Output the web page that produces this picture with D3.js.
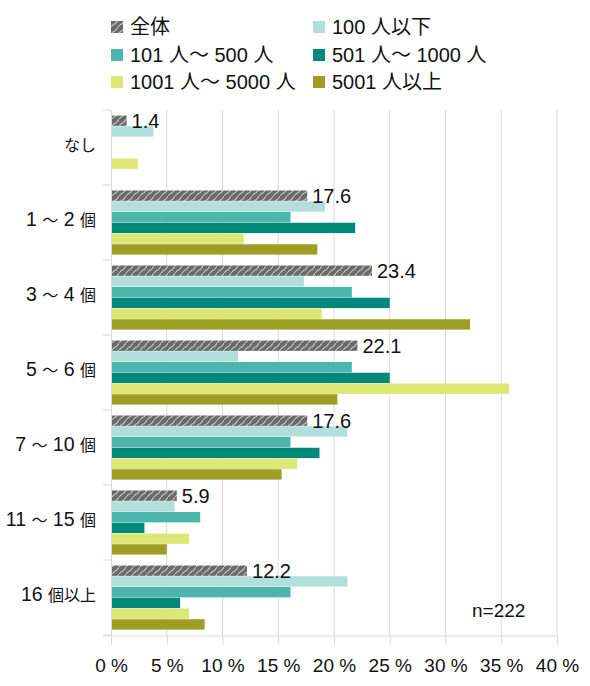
<!DOCTYPE html>
<html>
<head>
<meta charset="utf-8">
<script src="https://cdn.jsdelivr.net/npm/d3@7"></script>
<style>
  body { margin: 0; background: #fff; }
  text { font-family: "Liberation Sans", "Noto Sans CJK JP", sans-serif; fill: #111; }
</style>
</head>
<body>
<div class="chart"></div>
<script>
let FRAME_WIDTH = 590;
let FRAME_HEIGHT = 686;

// categories (top to bottom)
let categories = ["なし", "1 ～ 2 個", "3 ～ 4 個", "5 ～ 6 個", "7 ～ 10 個", "11 ～ 15 個", "16 個以上"];
let seriesNames = ["全体", "100 人以下", "101 人～ 500 人", "501 人～ 1000 人", "1001 人～ 5000 人", "5001 人以上"];
let seriesColors = ["url(#hatch)", "#b2dfdb", "#4db6ac", "#00897b", "#dce775", "#9e9d24"];

// values in %, one array per series
let total      = [1.4, 17.6, 23.4, 22.1, 17.6, 5.9, 12.2];
let upTo100    = [3.8, 19.2, 17.3, 11.4, 21.2, 5.7, 21.2];
let s101to500  = [0.0, 16.1, 21.6, 21.6, 16.1, 8.0, 16.1];
let s501to1000 = [0.0, 21.9, 25.0, 25.0, 18.7, 3.0, 6.2];
let s1001to5000 = [2.4, 11.9, 18.9, 35.7, 16.7, 7.0, 7.0];
let over5001   = [0.0, 18.5, 32.2, 20.3, 15.3, 5.0, 8.4];
let seriesValues = [total, upTo100, s101to500, s501to1000, s1001to5000, over5001];

let xTicks = [0, 5, 10, 15, 20, 25, 30, 35, 40];

let PLOT = {left: 111, right: 557, top: 110, bottom: 635};

let svg = d3.select(".chart")
            .append("svg")
            .attr("width", FRAME_WIDTH)
            .attr("height", FRAME_HEIGHT);

// hatch pattern for 全体
let defs = svg.append("defs");
let pat = defs.append("pattern")
              .attr("id", "hatch")
              .attr("patternUnits", "userSpaceOnUse")
              .attr("width", 7)
              .attr("height", 7);
pat.append("rect").attr("width", 7).attr("height", 7).attr("fill", "#6a6a6a");
pat.append("path")
   .attr("d", "M-1,8 L3,4 L4,4 L8,-1")
   .attr("stroke", "#c8c8c8")
   .attr("stroke-width", 1.1)
   .attr("fill", "none");

const X_SCALE = d3.scaleLinear()
                  .domain([0, 40])
                  .range([PLOT.left, PLOT.right]);

const Y_SCALE = d3.scaleBand()
                  .domain(categories)
                  .range([PLOT.top, PLOT.bottom]);

const Y_INNER = d3.scaleBand()
                  .domain(d3.range(seriesNames.length))
                  .range([5.5, Y_SCALE.bandwidth() - 5]);

// gridlines
svg.append("g")
   .selectAll("line")
   .data(xTicks.slice(1))
   .enter()
   .append("line")
     .attr("x1", d => X_SCALE(d))
     .attr("x2", d => X_SCALE(d))
     .attr("y1", PLOT.top)
     .attr("y2", PLOT.bottom + 1)
     .attr("stroke", "#d9d9d9")
     .attr("stroke-width", 1);

// bars
seriesValues.forEach((vals, si) => {
  svg.append("g")
     .selectAll("rect")
     .data(vals)
     .enter()
     .append("rect")
       .attr("x", X_SCALE(0))
       .attr("y", (d, i) => Y_SCALE(categories[i]) + Y_INNER(si))
       .attr("width", d => X_SCALE(d) - X_SCALE(0))
       .attr("height", Y_INNER.bandwidth() - 0.4)
       .attr("fill", seriesColors[si]);
});

// value labels for 全体
svg.append("g")
   .selectAll("text")
   .data(total)
   .enter()
   .append("text")
     .attr("x", d => X_SCALE(d) + 5)
     .attr("y", (d, i) => Y_SCALE(categories[i]) + Y_INNER(0) + Y_INNER.bandwidth() / 2)
     .attr("dy", "0.36em")
     .attr("font-size", "20px")
     .text(d => d.toFixed(1));

// left axis
let yAxis = svg.append("g")
   .attr("transform", "translate(" + PLOT.left + ",0)")
   .call(d3.axisLeft(Y_SCALE).tickSize(0).tickPadding(15));
yAxis.select(".domain").attr("stroke", "#d9d9d9");
// CJK parts are drawn a bit smaller than the digits
yAxis.selectAll("text").each(function(d) {
  let t = d3.select(this).text("").attr("fill", "#111");
  let parts = d.match(/[\u3000-\u9fff\uff00-\uffef]+|[^\u3000-\u9fff\uff00-\uffef]+/g);
  parts.forEach(p => {
    t.append("tspan")
     .attr("font-size", /[\u3000-\u9fff\uff00-\uffef]/.test(p) ? "16px" : "19.5px")
     .text(p);
  });
});
// band boundary ticks
svg.append("g")
   .selectAll("line")
   .data(d3.range(categories.length + 1))
   .enter()
   .append("line")
     .attr("x1", PLOT.left - 8)
     .attr("x2", PLOT.left)
     .attr("y1", d => PLOT.top + d * Y_SCALE.bandwidth())
     .attr("y2", d => PLOT.top + d * Y_SCALE.bandwidth())
     .attr("stroke", "#d9d9d9");

// bottom axis
let xAxis = svg.append("g")
   .attr("transform", "translate(0," + (PLOT.bottom + 1) + ")")
   .call(d3.axisBottom(X_SCALE).tickValues(xTicks).tickSize(9).tickPadding(14)
           .tickFormat(d => d + " %"));
xAxis.select(".domain").attr("stroke", "#d9d9d9")
     .attr("d", "M" + (PLOT.left - 8) + ",0H" + PLOT.right);
xAxis.selectAll("line").attr("stroke", "#d9d9d9");
xAxis.selectAll("text").attr("font-size", "19px").attr("fill", "#111");

// n label
svg.append("text")
   .attr("x", 472)
   .attr("y", 610)
   .attr("dy", "0.36em")
   .attr("font-size", "19px")
   .text("n=222");

// legend
let legendPos = [[111, 27], [313, 27], [111, 55], [313, 55], [111, 82], [313, 82]];
let legend = svg.append("g")
   .selectAll("g")
   .data(seriesNames)
   .enter()
   .append("g")
     .attr("transform", (d, i) => "translate(" + legendPos[i][0] + "," + legendPos[i][1] + ")");
legend.append("rect")
   .attr("x", 0).attr("y", -6)
   .attr("width", 12).attr("height", 12)
   .attr("fill", (d, i) => seriesColors[i]);
legend.append("text")
   .attr("x", 19)
   .attr("dy", "0.36em")
   .attr("font-size", "20px")
   .text(d => d);
</script>
</body>
</html>
